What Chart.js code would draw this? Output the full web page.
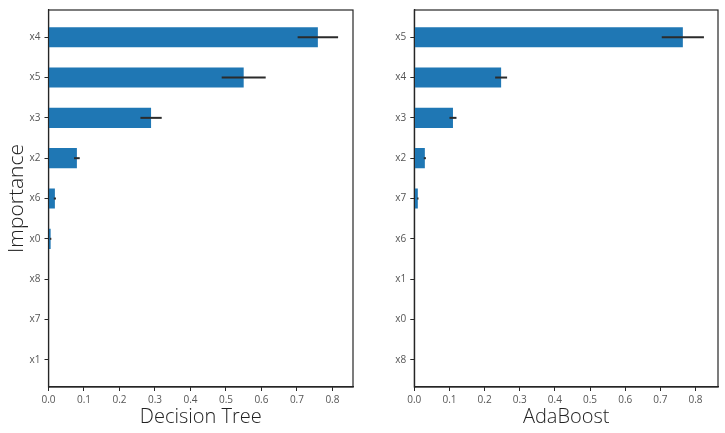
<!DOCTYPE html>
<html>
<head>
<meta charset="utf-8">
<script src="https://cdn.jsdelivr.net/npm/chart.js@4.4.0/dist/chart.umd.min.js"></script>
<style>
  body { margin: 0; background: #fff; }
  .wrap { position: absolute; top: 0; height: 433px; }
  #left { left: 0; width: 360px; }
  #right { left: 362px; width: 363px; }
</style>
</head>
<body>
<div class="wrap" id="left"><canvas id="dtChart"></canvas></div>
<div class="wrap" id="right"><canvas id="abChart"></canvas></div>
<script>
// Decision Tree importances (top to bottom)
const dtLabels = ['x4', 'x5', 'x3', 'x2', 'x6', 'x0', 'x8', 'x7', 'x1'];
const dtValues = [0.759, 0.550, 0.289, 0.080, 0.018, 0.006, 0, 0, 0];
const dtErrors = [0.057, 0.062, 0.030, 0.008, 0.003, 0.002, 0, 0, 0];

// AdaBoost importances (top to bottom)
const abLabels = ['x5', 'x4', 'x3', 'x2', 'x7', 'x6', 'x1', 'x0', 'x8'];
const abValues = [0.764, 0.247, 0.110, 0.030, 0.010, 0.001, 0.001, 0, 0];
const abErrors = [0.060, 0.017, 0.010, 0.003, 0.002, 0.001, 0.001, 0, 0];

const xTicks = [0, 0.1, 0.2, 0.3, 0.4, 0.5, 0.6, 0.7, 0.8];

const BAR_COLOR = '#1f77b4';
const SPINE = '#262626';
const FONT = "'Open Sans', 'Noto Sans', sans-serif";

// error bars + box spines
const extrasPlugin = {
    id: 'extras',
    afterDatasetsDraw(chart) {
        const ctx = chart.ctx;
        const xs = chart.scales.x;
        const ds = chart.data.datasets[0];
        const meta = chart.getDatasetMeta(0);
        ctx.save();
        ctx.strokeStyle = '#2b2b2b';
        ctx.lineWidth = 2;
        meta.data.forEach((bar, i) => {
            const e = ds.errors[i];
            if (!e) return;
            const v = ds.data[i].x;
            ctx.beginPath();
            ctx.moveTo(xs.getPixelForValue(v - e), bar.y);
            ctx.lineTo(xs.getPixelForValue(v + e), bar.y);
            ctx.stroke();
        });
        const a = chart.chartArea;
        ctx.strokeStyle = SPINE;
        ctx.lineWidth = 1.2;
        ctx.strokeRect(a.left, a.top, a.right - a.left, a.bottom - a.top);
        ctx.restore();
    }
};

function makeChart(id, labels, values, errors, title, yTitle, xMax, yAxisWidth) {
    const ctx = document.getElementById(id).getContext('2d');
    return new Chart(ctx, {
        type: 'bar',
        data: {
            datasets: [{
                data: values.map((v, i) => ({ x: v, y: i })),
                errors: errors,
                backgroundColor: BAR_COLOR,
                barPercentage: 0.5,
                categoryPercentage: 1.0
            }]
        },
        options: {
            indexAxis: 'y',
            responsive: true,
            maintainAspectRatio: false,
            animation: false,
            layout: { padding: { top: 6, right: 7, left: 0, bottom: 0 } },
            plugins: { legend: { display: false }, tooltip: { enabled: false } },
            scales: {
                x: {
                    type: 'linear',
                    min: 0,
                    max: xMax,
                    afterBuildTicks: (axis) => { axis.ticks = xTicks.map(v => ({ value: v })); },
                    afterFit: (axis) => { axis.height = 46; },
                    grid: { drawOnChartArea: false, drawTicks: true, tickLength: 4, color: SPINE },
                    border: { display: true, color: SPINE, width: 1.2 },
                    ticks: {
                        padding: 3,
                        color: '#555',
                        font: { family: FONT, size: 10 },
                        callback: (v) => Number(v).toFixed(1)
                    },
                    title: {
                        display: true,
                        text: title,
                        color: '#222',
                        font: { family: FONT, size: 20, weight: 300 },
                        padding: { top: 0, bottom: 4 }
                    }
                },
                y: {
                    type: 'linear',
                    reverse: true,
                    offset: false,
                    min: -0.675,
                    max: labels.length - 1 + 0.675,
                    afterBuildTicks: (axis) => { axis.ticks = labels.map((_, i) => ({ value: i })); },
                    afterFit: (axis) => { axis.width = yAxisWidth; },
                    grid: { offset: false, drawOnChartArea: false, drawTicks: true, tickLength: 4, color: SPINE },
                    border: { display: true, color: SPINE, width: 1.2 },
                    ticks: {
                        padding: 4,
                        color: '#555',
                        font: { family: FONT, size: 10 },
                        callback: (v) => labels[v]
                    },
                    title: {
                        display: !!yTitle,
                        text: yTitle,
                        color: '#222',
                        font: { family: FONT, size: 21, weight: 300 },
                        padding: { top: 4, bottom: 2 }
                    }
                }
            }
        },
        plugins: [extrasPlugin]
    });
}

makeChart('dtChart', dtLabels, dtValues, dtErrors, 'Decision Tree', 'Importance', 0.858, 48.5);
makeChart('abChart', abLabels, abValues, abErrors, 'AdaBoost', '', 0.864, 52.3);
</script>
</body>
</html>
